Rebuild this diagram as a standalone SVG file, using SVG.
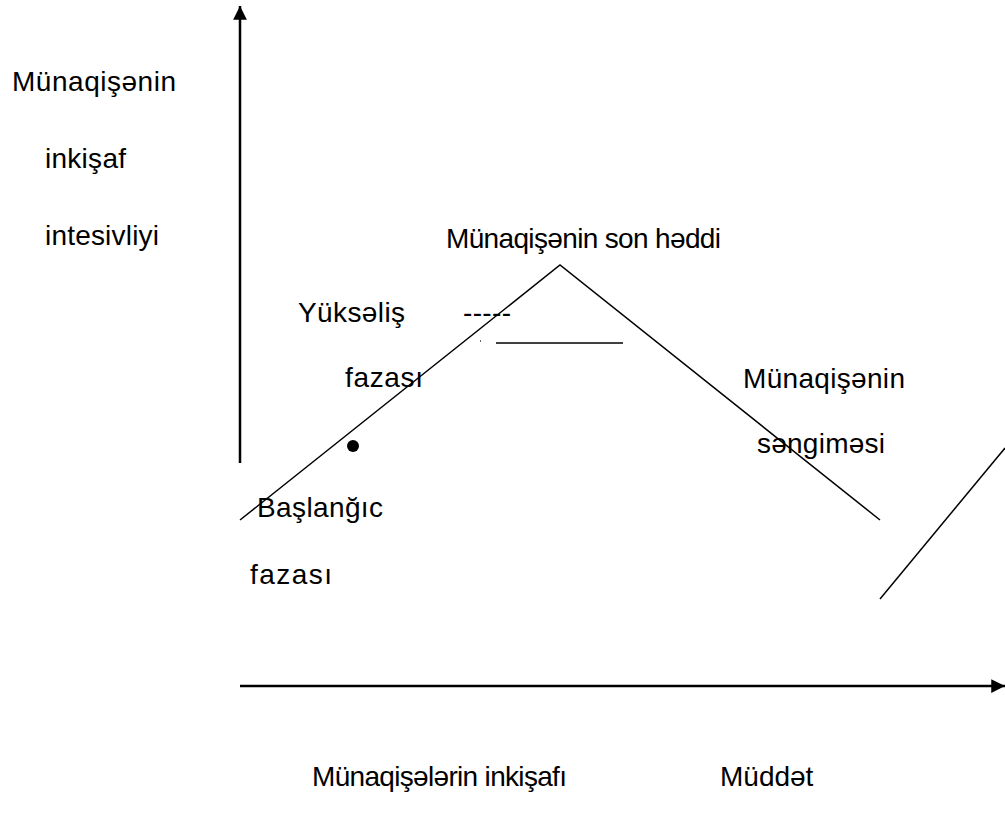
<svg xmlns="http://www.w3.org/2000/svg" width="1005" height="814" viewBox="0 0 1005 814">
<style>
text{font-family:"Liberation Sans",Arial,sans-serif;font-size:28px;fill:#000}
.ln{stroke:#000;stroke-width:1.5;fill:none}
.ax{stroke:#000;stroke-width:2.5;fill:none}
</style>
<defs>
<marker id="ah" viewBox="0 0 10 10" refX="10" refY="5" markerWidth="5.5" markerHeight="5.5" markerUnits="strokeWidth" orient="auto">
<path d="M0,0 L10,5 L0,10 z" fill="#000"/>
</marker>
</defs>
<rect width="1005" height="814" fill="#fff"/>
<g id="connectors">
<line class="ax" x1="240" y1="463" x2="240" y2="6" marker-end="url(#ah)"/>
<line class="ax" x1="240" y1="686" x2="1005" y2="686" marker-end="url(#ah)"/>
<polyline class="ln" points="240,520 560,265 880,520"/>
<line class="ln" x1="880" y1="599" x2="1005" y2="448"/>
<line class="ln" x1="496" y1="343" x2="623" y2="343"/>
<line class="ln" x1="480" y1="341" x2="480.8" y2="341"/>
<circle cx="353" cy="446" r="6" fill="#000"/>
</g>
<g id="y-label"><text x="12" y="91" textLength="164">Münaqişənin</text><text x="45" y="168" textLength="81">inkişaf</text><text x="45" y="245" textLength="114">intesivliyi</text></g>
<g id="peak"><text x="446" y="248" textLength="275">Münaqişənin son həddi</text></g>
<g id="rise"><text x="298" y="322" textLength="107">Yüksəliş</text><text x="463" y="322" textLength="48">-----</text><text x="345" y="387" textLength="78">fazası</text></g>
<g id="start"><text x="257" y="517" textLength="126">Başlanğıc</text><text x="250" y="584" textLength="82">fazası</text></g>
<g id="decline"><text x="743" y="388" textLength="162">Münaqişənin</text><text x="757" y="453" textLength="128">səngiməsi</text></g>
<g id="x-label"><text x="312" y="786" textLength="255">Münaqişələrin inkişafı</text><text x="720" y="786">Müddət</text></g>
</svg>
